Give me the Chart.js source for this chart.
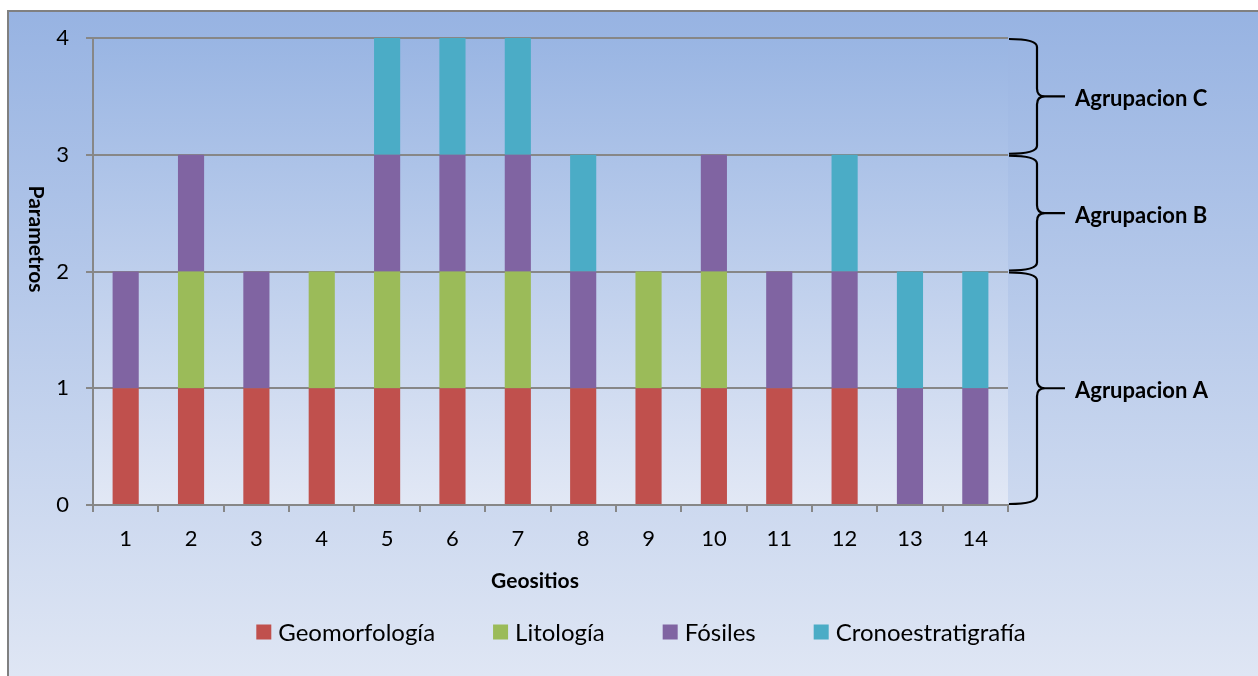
<!DOCTYPE html>
<html>
<head>
<meta charset="utf-8">
<script src="https://cdn.jsdelivr.net/npm/chart.js@4.4.1/dist/chart.umd.min.js"></script>
<style>
  html, body { margin: 0; padding: 0; background: #ffffff; }
  #wrap { width: 1258px; height: 676px; position: relative; }
</style>
</head>
<body>
<div id="wrap"><canvas id="chart" width="1258" height="676"></canvas></div>
<script>
// Geosites on the horizontal axis
const geositios = ['1', '2', '3', '4', '5', '6', '7', '8', '9', '10', '11', '12', '13', '14'];

// One unit per parameter present at each geosite
const geomorfologia      = [1, 1, 1, 1, 1, 1, 1, 1, 1, 1, 1, 1, 0, 0];
const litologia          = [0, 1, 0, 1, 1, 1, 1, 0, 1, 1, 0, 0, 0, 0];
const fosiles            = [1, 1, 1, 0, 1, 1, 1, 1, 0, 1, 1, 1, 1, 1];
const cronoestratigrafia = [0, 0, 0, 0, 1, 1, 1, 1, 0, 0, 0, 1, 1, 1];

const seriesNames = ['Geomorfología', 'Litología', 'Fósiles', 'Cronoestratigrafía'];
const yTickValues = [0, 1, 2, 3, 4];

// Groupings by number of parameters (range on the value axis)
const groupLabels = ['Agrupacion A', 'Agrupacion B', 'Agrupacion C'];
const groupFrom   = [0, 2, 3];
const groupTo     = [2, 3, 4];

const xTitle = 'Geositios';
const yTitle = 'Parametros';

const seriesColors = ['#c0504d', '#9bbb59', '#8064a2', '#4bacc6'];
const FONT = 'Lato, "Open Sans", sans-serif';
const GRID = '#878787';

const seriesValues = [geomorfologia, litologia, fosiles, cronoestratigrafia];

const datasets = seriesNames.map((name, i) => ({
  label: name,
  data: seriesValues[i].map(v => (v === 0 ? null : v)),
  backgroundColor: seriesColors[i],
  borderWidth: 0,
  barPercentage: 0.4,
  categoryPercentage: 1.0
}));

function drawBrace(ctx, x0, xv, xTip, yTop, yBot, yTip) {
  const r = 8;
  ctx.beginPath();
  ctx.moveTo(x0, yTop);
  ctx.quadraticCurveTo(xv, yTop, xv, yTop + r);
  ctx.lineTo(xv, yTip - r);
  ctx.quadraticCurveTo(xv, yTip, xv + r, yTip);
  ctx.lineTo(xTip, yTip);
  ctx.moveTo(xv + r, yTip);
  ctx.quadraticCurveTo(xv, yTip, xv, yTip + r);
  ctx.lineTo(xv, yBot - r);
  ctx.quadraticCurveTo(xv, yBot, x0, yBot);
  ctx.stroke();
}

const decor = {
  id: 'decor',
  beforeDraw(chart) {
    const ctx = chart.ctx;
    const W = chart.width, H = chart.height;
    const area = chart.chartArea;
    ctx.save();
    ctx.fillStyle = '#ffffff';
    ctx.fillRect(0, 0, W, H);
    // outer panel gradient
    const g = ctx.createLinearGradient(0, 10, 0, H);
    g.addColorStop(0, '#97b3e2');
    g.addColorStop(1, '#dfe6f4');
    ctx.fillStyle = g;
    ctx.fillRect(8, 11, W, H);
    ctx.strokeStyle = '#808080';
    ctx.lineWidth = 2;
    ctx.strokeRect(8, 11, W + 20, H + 20);
    // plot area gradient
    const pg = ctx.createLinearGradient(0, area.top, 0, area.bottom);
    pg.addColorStop(0, '#99b5e3');
    pg.addColorStop(1, '#e2e8f5');
    ctx.fillStyle = pg;
    ctx.fillRect(area.left, area.top, area.right - area.left, area.bottom - area.top);
    ctx.restore();
  },
  afterDraw(chart) {
    const ctx = chart.ctx;
    const area = chart.chartArea;
    const ys = chart.scales.y;
    ctx.save();
    // group braces and their labels
    ctx.strokeStyle = '#000000';
    ctx.lineWidth = 2.2;
    ctx.fillStyle = '#000000';
    ctx.font = 'bold 22px ' + FONT;
    ctx.textBaseline = 'middle';
    ctx.textAlign = 'left';
    for (let i = 0; i < groupLabels.length; i++) {
      const yTop = ys.getPixelForValue(groupTo[i]) + 1;
      const yBot = ys.getPixelForValue(groupFrom[i]) - 1;
      const yTip = (yTop + yBot) / 2;
      drawBrace(ctx, area.right + 1, area.right + 29, area.right + 57, yTop, yBot, yTip);
      ctx.fillText(groupLabels[i], area.right + 67, yTip + 3);
    }
    // axis titles
    ctx.font = 'bold 21px ' + FONT;
    ctx.textAlign = 'center';
    ctx.fillText(xTitle, 535, 581);
    ctx.save();
    ctx.translate(36, 239);
    ctx.rotate(Math.PI / 2);
    ctx.font = 'bold 21px ' + FONT;
    ctx.fillText(yTitle, 0, 0);
    ctx.restore();
    // legend
    ctx.font = '24px ' + FONT;
    ctx.textAlign = 'left';
    const box = 15, gapText = 7, gapItem = 58;
    const widths = seriesNames.map(n => ctx.measureText(n).width);
    let total = 0;
    widths.forEach((w, i) => { total += box + gapText + w + (i < widths.length - 1 ? gapItem : 0); });
    let x = 641 - total / 2;
    const yc = 632;
    chart.data.datasets.forEach((ds, i) => {
      ctx.fillStyle = ds.backgroundColor;
      ctx.fillRect(x, yc - box / 2, box, box);
      ctx.fillStyle = '#000000';
      ctx.fillText(ds.label, x + box + gapText, yc + 1);
      x += box + gapText + widths[i] + gapItem;
    });
    ctx.restore();
  }
};

new Chart(document.getElementById('chart'), {
  type: 'bar',
  data: { labels: geositios, datasets },
  options: {
    responsive: false,
    animation: false,
    devicePixelRatio: 1,
    layout: { padding: { top: 38, left: 0, right: 0, bottom: 0 } },
    plugins: { legend: { display: false }, tooltip: { enabled: false } },
    scales: {
      x: {
        stacked: true,
        afterFit(s) { s.height = 171; },
        grid: { offset: true, drawOnChartArea: false, drawTicks: true, tickLength: 7, color: GRID, lineWidth: 2 },
        border: { display: true, color: GRID, width: 2 },
        ticks: { color: '#000000', padding: 14, font: { family: FONT, size: 22 } }
      },
      y: {
        stacked: true,
        min: 0,
        max: 4,
        afterFit(s) { s.width = 93; },
        afterBuildTicks(s) { s.ticks = yTickValues.map(v => ({ value: v })); },
        grid: { color: GRID, lineWidth: 2, tickLength: 7, drawTicks: true },
        border: { display: true, color: GRID, width: 2 },
        ticks: { color: '#000000', padding: 17, font: { family: FONT, size: 22 } }
      },
      side: {
        position: 'right',
        display: true,
        afterFit(s) { s.width = 250; },
        grid: { display: false },
        border: { display: false },
        ticks: { display: false }
      }
    }
  },
  plugins: [decor]
});
</script>
</body>
</html>
